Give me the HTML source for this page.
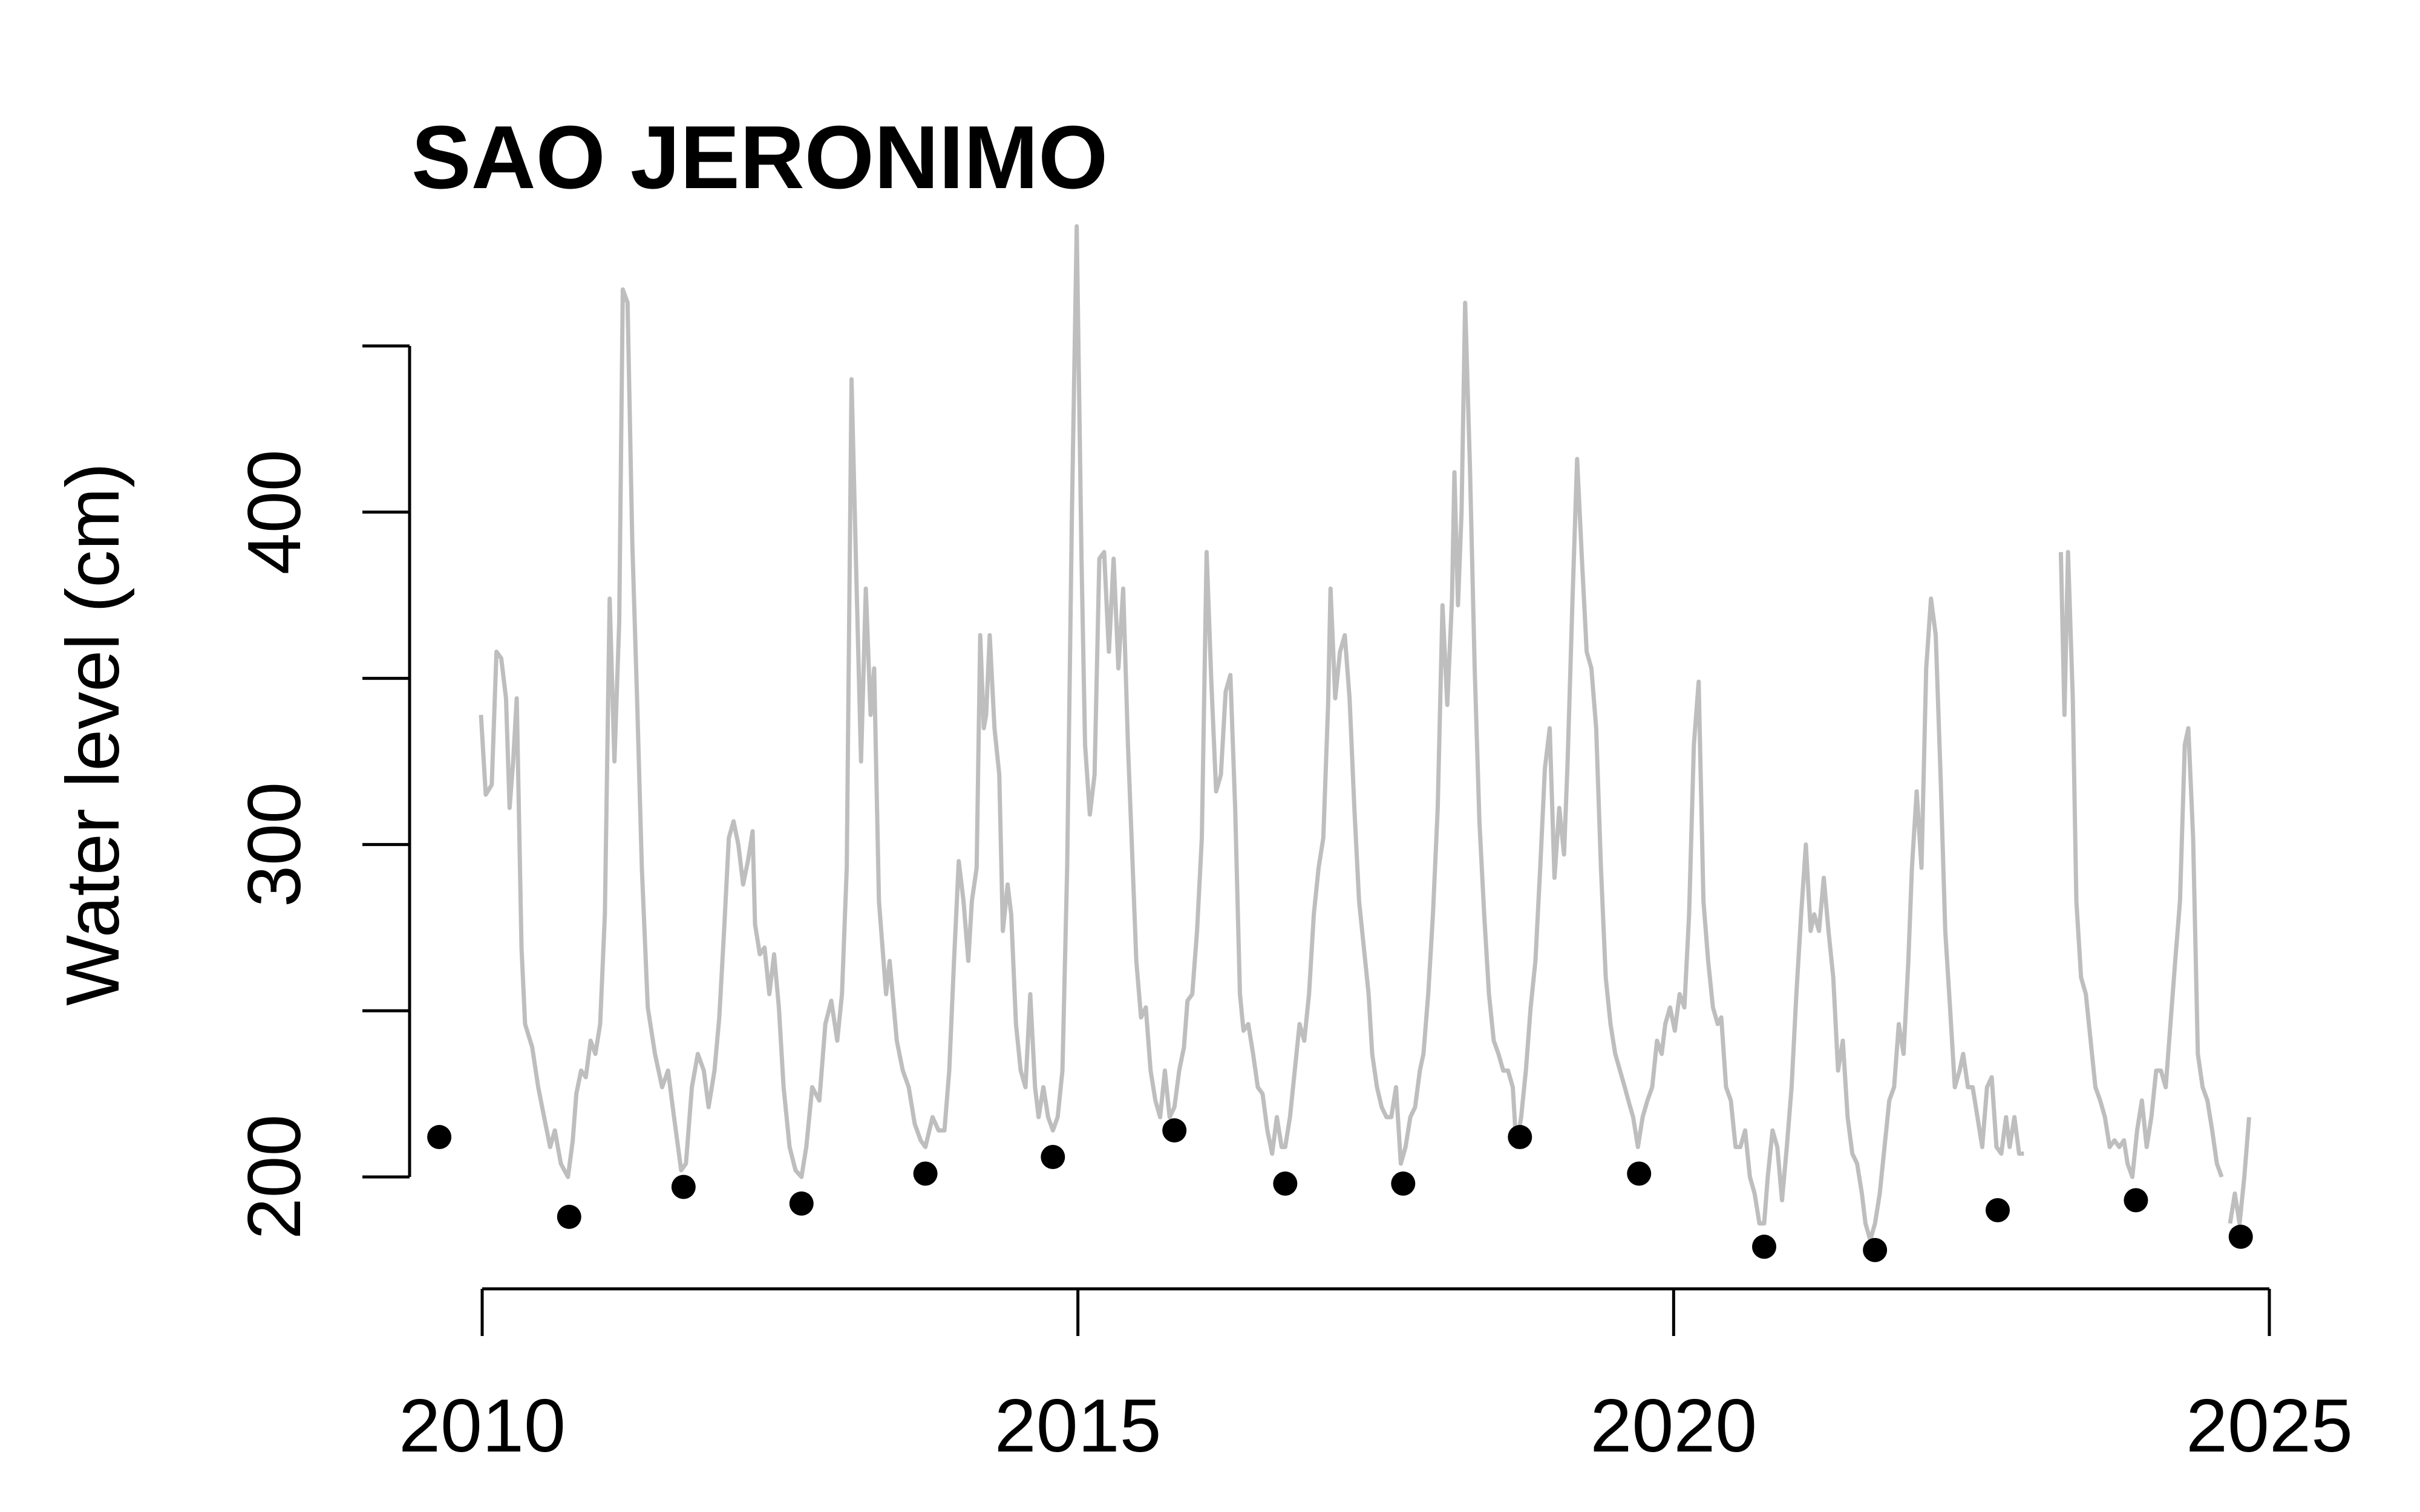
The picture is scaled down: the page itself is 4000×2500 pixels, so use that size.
<!DOCTYPE html>
<html><head><meta charset="utf-8"><style>
html,body{margin:0;padding:0;background:#fff;}
svg{display:block;font-family:"Liberation Sans",Arial,sans-serif;}
</style></head><body>
<svg id="chart" width="4000" height="2500" viewBox="0 0 4000 2500" xmlns="http://www.w3.org/2000/svg">
<rect width="4000" height="2500" fill="#fff"/>
<text x="680" y="311" font-size="148" font-weight="bold">SAO JERONIMO</text>
<text transform="translate(196,1214) rotate(-90)" text-anchor="middle" font-size="124">Water level (cm)</text>
<g id="axes"></g>
<g id="series"></g>
<g id="points"></g>
</svg>
<script>
const xTicks = [2010, 2015, 2020, 2025];
const yTicks = [200, 250, 300, 350, 400, 450];
const yLabels = [200, 300, 400];
const lineYears = [2009.99,2010.03,2010.08,2010.12,2010.16,2010.20,2010.23,2010.26,2010.29,2010.33,2010.36,2010.42,2010.47,2010.52,2010.57,2010.61,2010.66,2010.72,2010.76,2010.79,2010.83,2010.87,2010.91,2010.95,2010.99,2011.03,2011.07,2011.11,2011.15,2011.18,2011.22,2011.26,2011.30,2011.34,2011.39,2011.45,2011.51,2011.56,2011.61,2011.67,2011.71,2011.76,2011.81,2011.86,2011.90,2011.95,2011.99,2012.03,2012.07,2012.11,2012.15,2012.19,2012.23,2012.27,2012.29,2012.33,2012.37,2012.41,2012.45,2012.49,2012.53,2012.58,2012.63,2012.68,2012.72,2012.77,2012.83,2012.88,2012.93,2012.98,2013.02,2013.06,2013.10,2013.14,2013.18,2013.22,2013.26,2013.29,2013.33,2013.39,2013.42,2013.48,2013.53,2013.58,2013.63,2013.68,2013.72,2013.78,2013.83,2013.88,2013.92,2013.96,2014.00,2014.04,2014.08,2014.11,2014.15,2014.18,2014.21,2014.23,2014.26,2014.30,2014.34,2014.37,2014.41,2014.44,2014.48,2014.52,2014.56,2014.60,2014.64,2014.67,2014.71,2014.75,2014.79,2014.83,2014.87,2014.91,2014.95,2014.99,2015.03,2015.06,2015.10,2015.14,2015.18,2015.22,2015.26,2015.30,2015.34,2015.38,2015.42,2015.46,2015.49,2015.53,2015.57,2015.61,2015.65,2015.69,2015.73,2015.77,2015.81,2015.85,2015.89,2015.92,2015.96,2016.00,2016.04,2016.08,2016.12,2016.16,2016.20,2016.24,2016.28,2016.32,2016.36,2016.39,2016.43,2016.47,2016.51,2016.55,2016.59,2016.63,2016.67,2016.71,2016.74,2016.78,2016.82,2016.86,2016.90,2016.94,2016.98,2017.02,2017.06,2017.10,2017.12,2017.16,2017.20,2017.24,2017.28,2017.32,2017.36,2017.40,2017.44,2017.47,2017.51,2017.55,2017.59,2017.63,2017.67,2017.71,2017.75,2017.79,2017.83,2017.87,2017.90,2017.94,2017.98,2018.02,2018.06,2018.10,2018.14,2018.16,2018.19,2018.22,2018.25,2018.29,2018.33,2018.37,2018.41,2018.45,2018.49,2018.53,2018.57,2018.61,2018.65,2018.68,2018.72,2018.76,2018.80,2018.84,2018.88,2018.92,2018.96,2019.00,2019.04,2019.08,2019.11,2019.15,2019.19,2019.23,2019.27,2019.31,2019.35,2019.39,2019.43,2019.47,2019.51,2019.55,2019.59,2019.62,2019.66,2019.70,2019.74,2019.78,2019.82,2019.86,2019.90,2019.93,2019.97,2020.01,2020.05,2020.09,2020.13,2020.17,2020.21,2020.25,2020.29,2020.33,2020.37,2020.40,2020.44,2020.48,2020.52,2020.56,2020.60,2020.64,2020.68,2020.72,2020.76,2020.79,2020.83,2020.87,2020.91,2020.95,2020.99,2021.03,2021.07,2021.11,2021.15,2021.18,2021.22,2021.26,2021.30,2021.34,2021.38,2021.42,2021.46,2021.50,2021.54,2021.58,2021.61,2021.65,2021.69,2021.73,2021.77,2021.81,2021.85,2021.89,2021.93,2021.97,2022.00,2022.04,2022.08,2022.12,2022.16,2022.20,2022.24,2022.28,2022.32,2022.36,2022.40,2022.43,2022.47,2022.51,2022.55,2022.59,2022.63,2022.67,2022.71,2022.75,2022.79,2022.82,2022.86,2022.90,2022.94,null,2023.25,2023.28,2023.31,2023.35,2023.38,2023.42,2023.46,2023.50,2023.54,2023.58,2023.62,2023.66,2023.70,2023.74,2023.78,2023.81,2023.85,2023.89,2023.93,2023.97,2024.01,2024.05,2024.09,2024.13,2024.17,2024.21,2024.25,2024.29,2024.32,2024.36,2024.40,2024.44,2024.48,2024.52,2024.56,2024.60,null,2024.67,2024.71,2024.75,2024.79,2024.83];
const lineValues = [339,315,318,358,356,344,311,325,344,269,246,239,227,218,209,214,204,200,211,225,232,230,241,237,246,279,374,325,367,467,463,391,344,293,251,237,227,232,218,202,204,227,237,232,221,232,248,274,302,307,300,288,295,304,276,267,269,255,267,251,227,209,202,200,209,227,223,246,253,241,255,293,440,381,325,377,339,353,283,255,265,241,232,227,216,211,209,218,214,214,232,265,295,283,265,283,293,363,335,339,363,335,321,274,288,279,246,232,227,255,227,218,227,218,214,218,232,293,400,486,386,330,309,321,386,388,358,386,353,377,330,293,265,248,251,232,223,218,232,218,221,232,239,253,255,274,302,388,349,316,321,346,351,311,255,244,246,237,227,225,214,207,218,209,209,218,232,246,241,255,279,293,302,342,377,344,358,363,344,311,283,269,255,237,227,221,218,218,227,204,209,218,221,232,237,255,279,311,372,342,374,412,372,400,463,414,353,307,279,255,241,237,232,232,227,209,218,232,251,265,293,323,335,290,311,297,325,372,416,386,358,353,335,293,260,246,237,232,227,223,218,209,218,223,227,241,237,246,251,244,255,251,279,330,349,283,265,251,246,248,227,223,209,209,214,200,195,186,186,200,214,209,193,209,227,255,279,300,274,279,274,290,274,260,232,241,218,207,204,195,186,181,186,195,209,223,227,246,237,265,293,316,293,353,374,363,321,274,251,227,232,237,227,227,218,209,227,230,209,207,218,209,218,207,207,null,388,339,388,344,283,260,255,241,227,223,218,209,211,209,211,204,200,214,223,209,218,232,232,227,246,265,283,330,335,302,237,227,223,214,204,200,null,186,195,186,200,218];
const minYears = [2009.64,2010.73,2011.69,2012.68,2013.72,2014.79,2015.81,2016.74,2017.73,2018.71,2019.71,2020.76,2021.69,2022.72,2023.88,2024.76];
const minValues = [212,188,197,192,201,206,214,198,198,212,201,179,178,190,193,182];

const NS = "http://www.w3.org/2000/svg";
const X0 = 797, X1 = 3751, Y0 = 1946, Y1 = 572;
function xScale(yr){ return X0 + (yr - 2010) / 15 * (X1 - X0); }
function yScale(v){ return Y0 - (v - 200) / 250 * (Y0 - Y1); }
function mk(tag, attrs){ const e = document.createElementNS(NS, tag); for (const k in attrs) e.setAttribute(k, attrs[k]); return e; }

const axes = document.getElementById('axes');
const axisY = 2131, axisXLeft = 677;
let xl = mk('line', {x1: xScale(xTicks[0]), x2: xScale(xTicks[xTicks.length-1]), y1: axisY, y2: axisY, stroke: '#000', 'stroke-width': 5});


axes.appendChild(xl);
xTicks.forEach(t => {
  const tk = mk('line', {x1: xScale(t), x2: xScale(t), y1: axisY, y2: axisY + 78, stroke: '#000', 'stroke-width': 5});
  
  
  axes.appendChild(tk);
  const lb = mk('text', {x: xScale(t), y: 2400, 'text-anchor': 'middle', 'font-size': 124});
  lb.textContent = t;
  
  
  axes.appendChild(lb);
});
let yl = mk('line', {x1: axisXLeft, x2: axisXLeft, y1: yScale(yTicks[0]), y2: yScale(yTicks[yTicks.length-1]), stroke: '#000', 'stroke-width': 5});


axes.appendChild(yl);
yTicks.forEach(t => {
  const tk = mk('line', {x1: axisXLeft - 78, x2: axisXLeft, y1: yScale(t), y2: yScale(t), stroke: '#000', 'stroke-width': 5});
  
  
  axes.appendChild(tk);
});
yLabels.forEach(t => {
  const lb = mk('text', {transform: 'translate(496,' + yScale(t) + ') rotate(-90)', 'text-anchor': 'middle', 'font-size': 124});
  lb.textContent = t;
  
  
  axes.appendChild(lb);
});

let d = '', pen = false;
for (let i = 0; i < lineYears.length; i++) {
  if (lineYears[i] === null || lineValues[i] === null) { pen = false; continue; }
  d += (pen ? 'L' : 'M') + xScale(lineYears[i]).toFixed(1) + ' ' + yScale(lineValues[i]).toFixed(1) + ' ';
  pen = true;
}
const path = mk('path', {d: d, fill: 'none', stroke: '#bebebe', 'stroke-width': 7, 'stroke-linejoin': 'round'});


document.getElementById('series').appendChild(path);

const pts = document.getElementById('points');
minYears.forEach((yr, i) => {
  const c = mk('circle', {cx: xScale(yr), cy: yScale(minValues[i]), r: 20, fill: '#000'});
  
  
  pts.appendChild(c);
});
</script>
</body></html>
